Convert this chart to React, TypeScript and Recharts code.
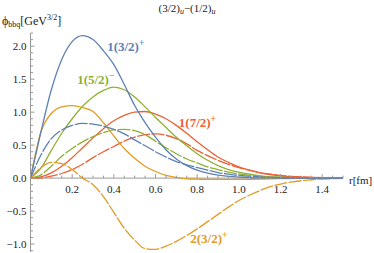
import React from 'react';
import { LineChart, Line, XAxis, YAxis, ReferenceLine, ReferenceDot } from 'recharts';

// r [fm]
const rValues = [0, 0.05, 0.1, 0.15, 0.2, 0.25, 0.3, 0.35, 0.4, 0.45, 0.5, 0.55, 0.6, 0.65, 0.7, 0.75, 0.8, 0.85, 0.9, 0.95, 1.0, 1.05, 1.1, 1.15, 1.2, 1.25, 1.3, 1.35, 1.4, 1.45, 1.5];

// 1(3/2)+ solid / dashed
const blueSolid = [0, 0.70, 1.34, 1.80, 2.07, 2.16, 2.10, 1.93, 1.72, 1.42, 1.10, 0.84, 0.62, 0.43, 0.29, 0.19, 0.12, 0.075, 0.045, 0.027, 0.016, 0.009, 0.005, 0.003, 0.001, 0, 0, 0, 0, 0, 0];
const blueDashed = [0, 0.35, 0.60, 0.73, 0.80, 0.83, 0.82, 0.79, 0.74, 0.67, 0.58, 0.49, 0.40, 0.32, 0.25, 0.20, 0.16, 0.12, 0.085, 0.06, 0.04, 0.028, 0.018, 0.012, 0.007, 0.004, 0.002, 0.001, 0, 0, 0];
// orange
const orangeSolid = [0, 0.70, 0.98, 1.08, 1.10, 1.07, 1.01, 0.84, 0.64, 0.45, 0.30, 0.18, 0.10, 0.04, 0.01, -0.01, -0.015, -0.02, -0.02, -0.02, -0.02, -0.018, -0.015, -0.012, -0.009, -0.006, -0.004, -0.002, -0.001, 0, 0];
// 2(3/2)+
const orangeDashed = [0, 0.16, 0.24, 0.22, 0.13, 0.0, -0.10, -0.28, -0.52, -0.76, -0.94, -1.07, -1.08, -1.03, -0.96, -0.87, -0.77, -0.66, -0.55, -0.44, -0.34, -0.26, -0.19, -0.13, -0.09, -0.06, -0.04, -0.025, -0.015, -0.008, -0.004];
// 1(5/2)-
const greenSolid = [0, 0.15, 0.42, 0.68, 0.90, 1.09, 1.23, 1.33, 1.38, 1.34, 1.23, 1.08, 0.92, 0.77, 0.62, 0.49, 0.37, 0.27, 0.19, 0.13, 0.09, 0.06, 0.035, 0.02, 0.012, 0.007, 0.004, 0.002, 0.001, 0, 0];
const greenDashed = [0, 0.05, 0.18, 0.33, 0.45, 0.55, 0.63, 0.69, 0.73, 0.74, 0.72, 0.66, 0.56, 0.46, 0.37, 0.29, 0.23, 0.17, 0.13, 0.09, 0.065, 0.045, 0.03, 0.02, 0.013, 0.008, 0.005, 0.003, 0.002, 0.001, 0];
// 1(7/2)+
const redSolid = [0, 0.02, 0.08, 0.18, 0.31, 0.46, 0.61, 0.75, 0.87, 0.95, 1.0, 1.01, 0.97, 0.90, 0.80, 0.68, 0.55, 0.43, 0.32, 0.24, 0.17, 0.12, 0.08, 0.055, 0.035, 0.022, 0.014, 0.009, 0.005, 0.003, 0.002];
const redDashed = [0, 0.005, 0.03, 0.07, 0.13, 0.21, 0.31, 0.40, 0.48, 0.56, 0.62, 0.66, 0.67, 0.65, 0.60, 0.52, 0.42, 0.34, 0.27, 0.21, 0.16, 0.12, 0.085, 0.06, 0.04, 0.027, 0.018, 0.012, 0.008, 0.005, 0.003];

const yTicks = [-1.1, -1.0, -0.9, -0.8, -0.7, -0.6, -0.5, -0.4, -0.3, -0.2, -0.1, 0, 0.1, 0.2, 0.3, 0.4, 0.5, 0.6, 0.7, 0.8, 0.9, 1.0, 1.1, 1.2, 1.3, 1.4, 1.5, 1.6, 1.7, 1.8, 1.9, 2.0, 2.1, 2.2];
const yMajor = [-1.0, -0.5, 0, 0.5, 1.0, 1.5, 2.0];
const xTicks = [0.05, 0.1, 0.15, 0.2, 0.25, 0.3, 0.35, 0.4, 0.45, 0.5, 0.55, 0.6, 0.65, 0.7, 0.75, 0.8, 0.85, 0.9, 0.95, 1.0, 1.05, 1.1, 1.15, 1.2, 1.25, 1.3, 1.35, 1.4, 1.45, 1.5];
const xMajor = [0.2, 0.4, 0.6, 0.8, 1.0, 1.2, 1.4];

const curveLabels = [
  { x: 0.368, y: 2.0, main: '1(3/2)', sup: '+', color: '#5E81B5' },
  { x: 0.224, y: 1.5, main: '1(5/2)', sup: '\u2212', color: '#8FB032' },
  { x: 0.712, y: 0.85, main: '1(7/2)', sup: '+', color: '#EB6235' },
  { x: 0.767, y: -0.92, main: '2(3/2)', sup: '+', color: '#E19C24' },
];

const data = rValues.map((r, i) => ({
  r,
  b1: blueSolid[i], b2: blueDashed[i],
  o1: orangeSolid[i], o2: orangeDashed[i],
  g1: greenSolid[i], g2: greenDashed[i],
  r1: redSolid[i], r2: redDashed[i],
}));

const AXIS = '#9a9a9a';
const FONT = '"Liberation Serif", "DejaVu Serif", serif';
const DASH = '13 1.5';

const isIn = (arr: number[], v: number) => arr.some((a) => Math.abs(a - v) < 1e-6);
const fmt = (v: number) => v.toFixed(1).replace('-', '\u2212');

const YTick = (props: any) => {
  const { x, y, payload } = props;
  const v = payload.value;
  const major = isIn(yMajor, v);
  const ax = x + 4;
  return (
    <g>
      <line x1={ax} x2={ax + (major ? 4 : 2.5)} y1={y} y2={y} stroke={AXIS} strokeWidth={1} />
      {major && (
        <text x={x} y={y} dy="0.35em" textAnchor="end" fontFamily={FONT} fontSize={11} fill="#222">
          {fmt(v)}
        </text>
      )}
    </g>
  );
};

const makeXTick = (t: number) => (p: any) => {
  const major = isIn(xMajor, t);
  return (
    <g>
      <line x1={p.cx} x2={p.cx} y1={p.cy} y2={p.cy - (major ? 4 : 2.5)} stroke={AXIS} strokeWidth={1} />
      {major && (
        <text x={p.cx} y={p.cy + 15} textAnchor="middle" fontFamily={FONT} fontSize={11} fill="#222">
          {fmt(t)}
        </text>
      )}
    </g>
  );
};

const makeLabel = (l: typeof curveLabels[number]) => (p: any) => (
  <text x={p.cx} y={p.cy} dy="0.35em" fontFamily={FONT} fontSize={13} fontWeight="bold" fill={l.color}>
    {l.main}
    <tspan fontSize={9.5} dy={-5}>{l.sup}</tspan>
  </text>
);

export default function App() {
  return (
    <div style={{ position: 'absolute', left: 0, top: 0, width: 374, height: 253, background: '#fff' }}>
      <LineChart width={374} height={253} data={data} margin={{ top: 33, right: 31, bottom: 1, left: 0 }}>
        <XAxis dataKey="r" type="number" domain={[0, 1.5]} hide />
        <YAxis
          type="number"
          domain={[-1.12, 2.2]}
          ticks={yTicks}
          interval={0}
          width={30.5}
          tickSize={0}
          tickMargin={4}
          tickLine={false}
          tick={YTick}
          axisLine={{ stroke: AXIS }}
          allowDataOverflow
        />
        <ReferenceLine y={0} stroke={AXIS} strokeWidth={1} />
        {xTicks.map((t) => (
          <ReferenceDot key={'xt' + t} x={t} y={0} r={0} shape={makeXTick(t)} />
        ))}
        <Line type="monotone" dataKey="r2" stroke="#EB6235" strokeWidth={1.3} strokeDasharray={DASH} dot={false} isAnimationActive={false} />
        <Line type="monotone" dataKey="r1" stroke="#EB6235" strokeWidth={1.3} dot={false} isAnimationActive={false} />
        <Line type="monotone" dataKey="g2" stroke="#8FB032" strokeWidth={1.3} strokeDasharray={DASH} dot={false} isAnimationActive={false} />
        <Line type="monotone" dataKey="g1" stroke="#8FB032" strokeWidth={1.3} dot={false} isAnimationActive={false} />
        <Line type="monotone" dataKey="o2" stroke="#E19C24" strokeWidth={1.3} strokeDasharray={DASH} dot={false} isAnimationActive={false} />
        <Line type="monotone" dataKey="o1" stroke="#E19C24" strokeWidth={1.3} dot={false} isAnimationActive={false} />
        <Line type="monotone" dataKey="b2" stroke="#5E81B5" strokeWidth={1.3} strokeDasharray={DASH} dot={false} isAnimationActive={false} />
        <Line type="monotone" dataKey="b1" stroke="#5E81B5" strokeWidth={1.3} dot={false} isAnimationActive={false} />
        {curveLabels.map((l) => (
          <ReferenceDot key={l.main + l.color} x={l.x} y={l.y} r={0} shape={makeLabel(l)} />
        ))}
      </LineChart>
      <svg width={374} height={253} style={{ position: 'absolute', left: 0, top: 0, pointerEvents: 'none' }}>
        <text x={187} y={12} textAnchor="middle" fontFamily={FONT} fontSize={11} fill="#222">
          (3/2)<tspan fontSize={8} fontStyle="italic" dy={2}>u</tspan>
          <tspan dy={-2}>{'\u2212'}(1/2)</tspan>
          <tspan fontSize={8} fontStyle="italic" dy={2}>u</tspan>
        </text>
        <text x={2} y={25} fontFamily={FONT} fontSize={12} fill="#222">
          {'\u03d5'}<tspan fontSize={8} dy={2}>bbq</tspan>
          <tspan dy={-2}>[GeV</tspan>
          <tspan fontSize={8} dy={-5}>3/2</tspan>
          <tspan dy={5}>]</tspan>
        </text>
        <text x={349} y={184} fontFamily={FONT} fontSize={11} fill="#222">r[fm]</text>
      </svg>
    </div>
  );
}
